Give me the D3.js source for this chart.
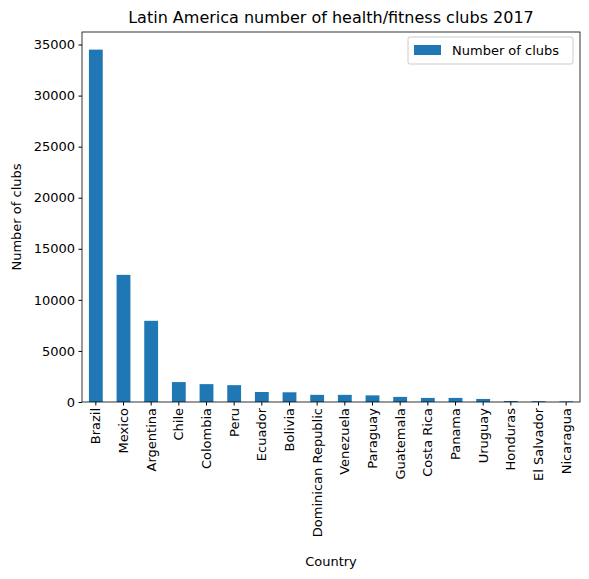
<!DOCTYPE html>
<html><head><meta charset="utf-8">
<script src="https://cdn.jsdelivr.net/npm/d3@7"></script>
<style>body{margin:0;background:#fff}text{font-family:"DejaVu Sans",sans-serif;fill:#000}</style>
</head><body><svg id="c" width="589" height="579"></svg>
<script>
var countries = ["Brazil","Mexico","Argentina","Chile","Colombia","Peru","Ecuador","Bolivia","Dominican Republic","Venezuela","Paraguay","Guatemala","Costa Rica","Panama","Uruguay","Honduras","El Salvador","Nicaragua"];
var clubs = [34500,12450,7950,1950,1750,1650,980,950,700,700,650,500,400,400,300,100,80,60];
var yTicks = [0,5000,10000,15000,20000,25000,30000,35000];

var m = {l:82, r:580, t:32, b:402};
var svg = d3.select("#c");
var x = d3.scaleBand().domain(countries).range([m.l, m.r]).paddingInner(0.5).paddingOuter(0.25);
var y = d3.scaleLinear().domain([0, d3.max(clubs) * 1.05]).range([m.b, m.t]);

svg.selectAll("rect.bar").data(countries).enter().append("rect")
  .attr("x", function(d){ return x(d); })
  .attr("y", function(d, i){ return y(clubs[i]); })
  .attr("width", x.bandwidth())
  .attr("height", function(d, i){ return m.b - y(clubs[i]); })
  .attr("fill", "#1f77b4");

var ya = svg.append("g").attr("transform", "translate(" + m.l + ",0)")
  .call(d3.axisLeft(y).tickValues(yTicks).tickFormat(d3.format("d")).tickSize(3.5).tickPadding(3.5));
var xa = svg.append("g").attr("transform", "translate(0," + m.b + ")")
  .call(d3.axisBottom(x).tickSize(3.5).tickPadding(3.5));
[ya, xa].forEach(function(a){
  a.select(".domain").remove();
  a.selectAll("text").style("font-size", "13px");
  a.selectAll("line").attr("stroke", "#000");
});
xa.selectAll("text").attr("transform", "rotate(-90)").attr("text-anchor", "end")
  .attr("x", -6).attr("y", 0).attr("dy", "0.35em");

svg.append("rect").attr("x", m.l).attr("y", m.t).attr("width", m.r - m.l).attr("height", m.b - m.t)
  .attr("fill", "none").attr("stroke", "#000").attr("stroke-width", 0.8);

svg.append("text").attr("x", (m.l + m.r) / 2).attr("y", 23).attr("text-anchor", "middle")
  .style("font-size", "16px").text("Latin America number of health/fitness clubs 2017");
svg.append("text").attr("x", (m.l + m.r) / 2).attr("y", 566).attr("text-anchor", "middle")
  .style("font-size", "13px").text("Country");
svg.append("text").attr("transform", "translate(21," + ((m.t + m.b) / 2) + ") rotate(-90)")
  .attr("text-anchor", "middle").style("font-size", "13px").text("Number of clubs");

var lg = svg.append("g");
lg.append("rect").attr("x", 408).attr("y", 37).attr("width", 165).attr("height", 27).attr("rx", 2)
  .attr("fill", "#fff").attr("stroke", "#ccc");
lg.append("rect").attr("x", 414).attr("y", 45).attr("width", 27).attr("height", 10).attr("fill", "#1f77b4");
lg.append("text").attr("x", 452).attr("y", 55).style("font-size", "13px").text("Number of clubs");
</script></body></html>
